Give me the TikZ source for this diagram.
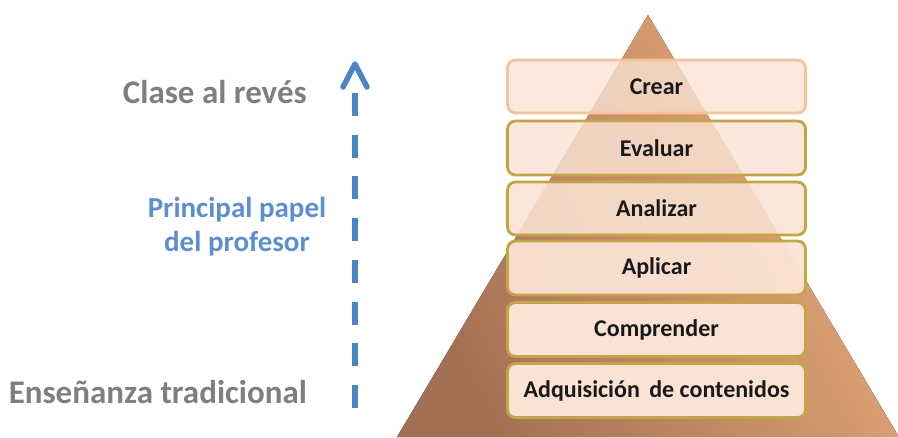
\documentclass[tikz,border=0pt]{standalone}
\usepackage{fontspec}
\setmainfont{Carlito}
\usetikzlibrary{arrows.meta}
\definecolor{pyrdark}{HTML}{A27052}
\definecolor{pyrlight}{HTML}{EAAC7A}
\definecolor{boxfill}{HTML}{FAE3D4}
\definecolor{gold}{HTML}{C4A545}
\definecolor{peachline}{HTML}{F8C39A}
\definecolor{greytxt}{HTML}{7F7F7F}
\definecolor{bluetxt}{HTML}{5B8FD2}
\definecolor{arrowblue}{HTML}{4A86C6}
\tikzset{
  level/.style={draw=gold, line width=2.8pt, rounded corners=8pt, fill=boxfill, fill opacity=1, text opacity=1, minimum width=298pt, inner sep=0pt, text=black!90, font=\bfseries\fontsize{24}{28}\selectfont},
  bigtxt/.style={font=\bfseries\fontsize{33}{38}\selectfont, inner sep=0pt},
}
\begin{document}
\begin{tikzpicture}[x=1pt,y=-1pt]
\useasboundingbox (0,0) rectangle (898,437);
\begin{scope}
\clip (0,0) rectangle (898,437);
\fill[left color=pyrdark, right color=pyrlight, shading angle=118] (648,15) -- (899,437) -- (397,437) -- cycle;
\end{scope}
% levels
\node[level, draw=peachline, fill opacity=0.78, minimum height=53pt] (crear) at (656.5,86.5) {Crear};
\node[level, fill opacity=0.82, minimum height=54pt] (evaluar) at (656.5,148) {Evaluar};
\node[level, fill opacity=0.87, minimum height=53pt] (analizar) at (656.5,208.5) {Analizar};
\node[level, fill opacity=0.95, minimum height=54pt] (aplicar) at (656.5,268) {Aplicar};
\node[level, minimum height=54pt] (comprender) at (656.5,329.5) {Comprender};
\node[level, minimum height=54pt] (adq) at (656.5,390.5) {Adquisición\, de contenidos};
% left texts
\node[bigtxt, text=greytxt, anchor=east] (clase) at (307,92) {Clase al revés};
\node[bigtxt, text=greytxt, anchor=east] (trad) at (307,392) {Enseñanza tradicional};
\node[bigtxt, text=bluetxt, align=center, font=\bfseries\fontsize{29}{34}\selectfont] (papel) at (237,227) {Principal papel\\del profesor};
% arrow
\coordinate (abot) at (355,408);
\coordinate (atop) at (355,64);
\draw[arrowblue, line width=5.5pt, dash pattern=on 23pt off 18.7pt] (355,93) -- (abot);
\draw[arrowblue, line width=5.5pt, line cap=round, line join=round] (343,87) -- (atop) -- (367,87);
\end{tikzpicture}
\end{document}
